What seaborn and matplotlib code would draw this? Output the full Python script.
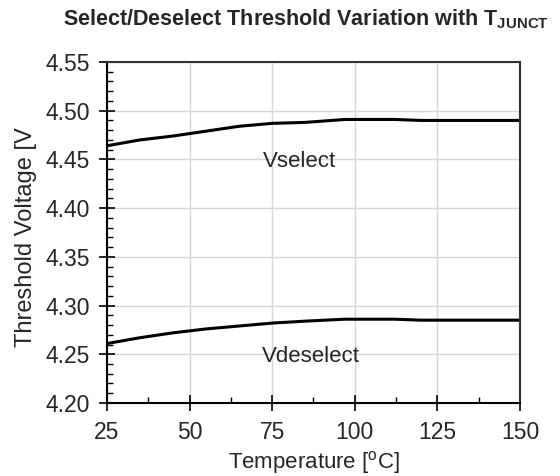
import pandas as pd
import matplotlib.pyplot as plt
import seaborn as sns
from matplotlib.ticker import MultipleLocator

temp = [25, 35, 45, 55, 65, 75, 85, 97, 112, 120, 150]
v_select = [4.464, 4.470, 4.474, 4.479, 4.484, 4.487, 4.488, 4.491, 4.491, 4.490, 4.490]
v_deselect = [4.261, 4.267, 4.272, 4.276, 4.279, 4.282, 4.284, 4.286, 4.286, 4.285, 4.285]

df = pd.DataFrame({'Temp': temp * 2,
                   'V': v_select + v_deselect,
                   'Curve': ['Vselect'] * len(temp) + ['Vdeselect'] * len(temp)})

sns.set_style('white')
plt.rcParams['font.family'] = ['Liberation Sans', 'DejaVu Sans']
plt.rcParams['mathtext.fontset'] = 'custom'
plt.rcParams['mathtext.rm'] = 'Liberation Sans'
plt.rcParams['mathtext.bf'] = 'Liberation Sans:bold'

fig = plt.figure(figsize=(5.6, 4.76), dpi=100)
ax = fig.add_axes([0.191, 0.1534, 0.7375, 0.7164])

sns.lineplot(data=df, x='Temp', y='V', units='Curve', estimator=None,
             color='black', linewidth=2.2, ax=ax)

ax.set_xlim(25, 150)
ax.set_ylim(4.20, 4.55)
ax.xaxis.set_major_locator(MultipleLocator(25))
ax.xaxis.set_minor_locator(MultipleLocator(12.5))
ax.yaxis.set_major_locator(MultipleLocator(0.05))
ax.yaxis.set_minor_locator(MultipleLocator(0.01))
ax.yaxis.set_major_formatter(plt.FormatStrFormatter('%.2f'))
ax.grid(True, which='major', color='#d6d6d6', linewidth=1)

ax.tick_params(which='major', direction='inout', length=12, width=1.2,
               color='black', left=True, bottom=True)
ax.tick_params(which='minor', direction='in', length=4.5, width=1,
               color='black', left=True, bottom=True)
ax.tick_params(axis='x', which='major', labelsize=16.5, pad=7)
ax.tick_params(axis='y', which='major', labelsize=16.5, pad=6.5)

for side in ['left', 'bottom']:
    ax.spines[side].set_color('black')
    ax.spines[side].set_linewidth(1.5)
for side in ['top', 'right']:
    ax.spines[side].set_color('#333333')
    ax.spines[side].set_linewidth(1.5)

ax.text(72.2, 4.442, 'Vselect', fontsize=16, ha='left', va='baseline')
ax.text(71.9, 4.242, 'Vdeselect', fontsize=16, ha='left', va='baseline')

ax.set_xlabel('Temperature [$^{\\mathrm{o}}$C]', fontsize=16, va='baseline')
ax.xaxis.set_label_coords(0.5, -0.192)
ax.set_ylabel('Threshold Voltage [V', fontsize=17)
ax.yaxis.set_label_coords(-0.169, 0.487)
fig.text(0.546, 0.947, 'Select/Deselect Threshold Variation with T$_{\\mathbf{JUNCT}}$',
         fontsize=15.5, fontweight='bold', ha='center', va='baseline')

fig.savefig('out.png', dpi=100)
